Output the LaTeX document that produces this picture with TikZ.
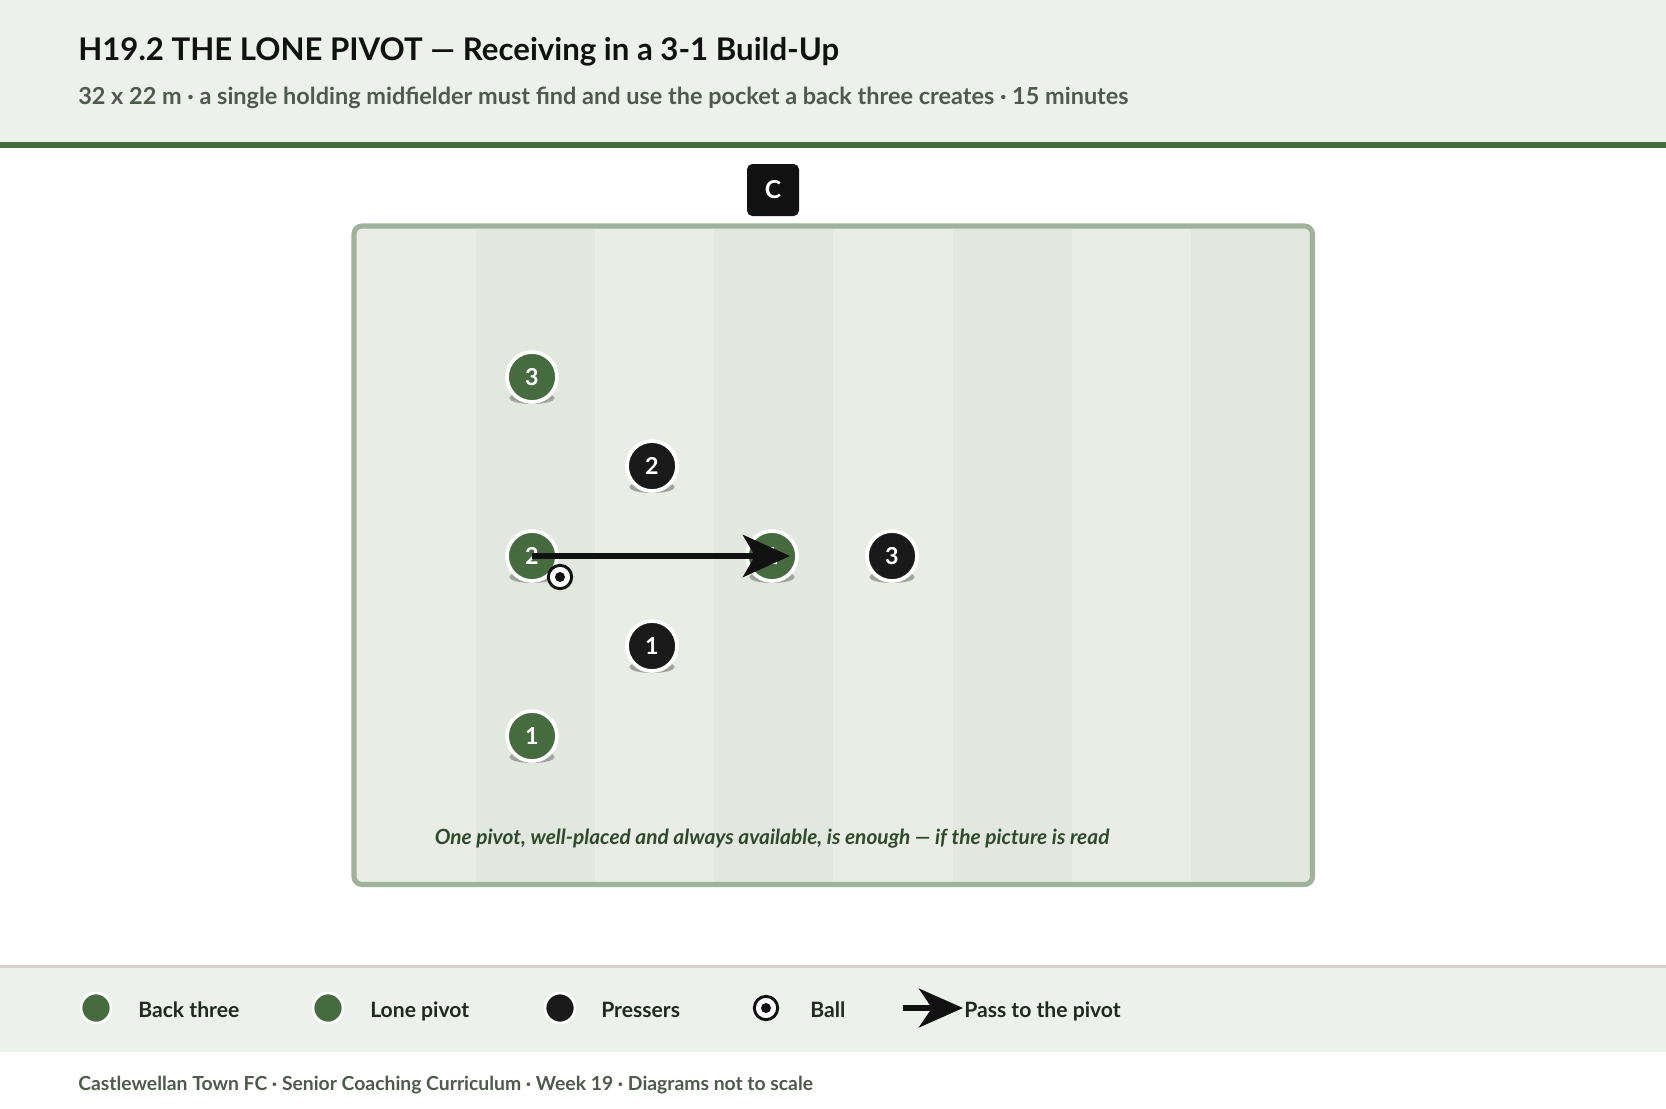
\documentclass[tikz,border=0pt]{standalone}
\usepackage{fontspec}
\setmainfont{Lato}[BoldFont={Lato Bold}, BoldItalicFont={Lato Bold Italic}]
\usetikzlibrary{arrows.meta}
\definecolor{hdrbg}{HTML}{EDF1EC}
\definecolor{pgreen}{HTML}{466B3F}
\definecolor{pblack}{HTML}{1A1A1A}
\definecolor{stripeA}{HTML}{E9EDE6}
\definecolor{stripeB}{HTML}{E2E8DF}
\definecolor{pborder}{HTML}{9FB39B}
\definecolor{subgrey}{HTML}{4D5A4C}
\definecolor{capgreen}{HTML}{2E4A2B}
\definecolor{sepline}{HTML}{D6D3CA}
\definecolor{legtext}{HTML}{1E2A1D}
\definecolor{shadowc}{HTML}{A0A49C}
\definecolor{inkc}{HTML}{111111}
\tikzset{
  plyr/.style={circle, draw=white, line width=2.8pt, minimum size=37.5pt, inner sep=0pt,
    font=\bfseries\fontsize{17.5}{17.5}\selectfont, text=white},
  bteam/.style={plyr, fill=pgreen},
  rteam/.style={plyr, fill=pblack},
  legdot/.style={circle, draw=white, line width=2pt, minimum size=22.5pt, inner sep=0pt},
  ballnode/.style={circle, draw=inkc, fill=white, line width=2.2pt, minimum size=17.5pt, inner sep=0pt},
  balldot/.style={circle, fill=inkc, minimum size=7.5pt, inner sep=0pt},
  passarrow/.style={draw=inkc, line width=4.7pt, -{Stealth[length=35.25pt,width=31.5pt,inset=9pt]}},
  legarrow/.style={draw=inkc, line width=4.7pt, -{Stealth[length=33pt,width=29pt,inset=9.75pt]}},
  legtxt/.style={anchor=base west, inner sep=0pt, text=legtext, font=\bfseries\fontsize{15.85}{15.85}\selectfont},
}
\newcommand\drawplayer[5]{%
  \fill[shadowc] (#2,#3+21) ellipse [x radius=17pt, y radius=4.5pt];
  \node[#4] (#1) at (#2,#3) {#5};}
\begin{document}
\begin{tikzpicture}[x=0.75pt,y=-0.75pt]
\useasboundingbox (0,0) rectangle (1666,1108);
\fill[white] (0,0) rectangle (1666,1108);
% header
\fill[hdrbg] (0,0) rectangle (1666,142);
\fill[pgreen] (0,142) rectangle (1666,148);
\node[anchor=base west, inner sep=0pt, text=inkc, font=\bfseries\fontsize{23.4}{23.4}\selectfont] (title) at (78,60)
  {H19.2 THE LONE PIVOT — Receiving in a 3-1 Build-Up};
\node[anchor=base west, inner sep=0pt, text=subgrey, font=\bfseries\fontsize{17.6}{17.6}\selectfont] (subtitle) at (78,104)
  {32 x 22 m · a single holding midfielder must find and use the pocket a back three creates · 15 minutes};
% coach box
\node[fill=inkc, rounded corners=4pt, minimum size=39pt, inner sep=0pt, text=white,
  font=\bfseries\fontsize{18.5}{18.5}\selectfont] (coach) at (773,190) {C};
% pitch
\fill[stripeA, rounded corners=6pt] (354,226) rectangle (1312.5,884.5);
\foreach \i in {1,3,5,7} {
  \fill[stripeB] (356.5+\i*119.2,228.5) rectangle (356.5+\i*119.2+119.2,882);
}
\draw[pborder, line width=3.8pt, rounded corners=6pt] (354,226) rectangle (1312.5,884.5);
% players
\drawplayer{b3}{532}{377}{bteam}{3}
\drawplayer{b2}{532}{556}{bteam}{2}
\drawplayer{b1}{532}{736}{bteam}{1}
\drawplayer{piv}{772}{556}{bteam}{1}
\drawplayer{r2}{652}{466}{rteam}{2}
\drawplayer{r1}{652}{646}{rteam}{1}
\drawplayer{r3}{892}{556}{rteam}{3}
% pass
\coordinate (passend) at (790,556);
\draw[passarrow] (b2.center) -- (passend);
% ball
\node[ballnode] (ball) at (560,577) {};
\node[balldot] (balld) at (ball.center) {};
% caption
\node[anchor=base, inner sep=0pt, text=capgreen, font=\bfseries\itshape\fontsize{15.65}{15.65}\selectfont] (caption) at (772,844)
  {One pivot, well-placed and always available, is enough — if the picture is read};
% legend band
\fill[hdrbg] (0,965) rectangle (1666,1052);
\fill[sepline] (0,965) rectangle (1666,968);
\node[legdot, fill=pgreen] (lg1) at (96,1008) {};
\node[legtxt] (lt1) at (138,1017) {Back three};
\node[legdot, fill=pgreen] (lg2) at (328,1008) {};
\node[legtxt] (lt2) at (370,1017) {Lone pivot};
\node[legdot, fill=pblack] (lg3) at (560,1008) {};
\node[legtxt] (lt3) at (601,1017) {Pressers};
\node[ballnode] (lg4) at (766,1008) {};
\node[balldot] (lg4d) at (lg4.center) {};
\node[legtxt] (lt4) at (810,1017) {Ball};
\coordinate (la1) at (903,1008);
\coordinate (la2) at (963,1008);
\draw[legarrow] (la1) -- (la2);
\node[legtxt] (lt5) at (964,1017) {Pass to the pivot};
% footer
\node[anchor=base west, inner sep=0pt, text=subgrey, font=\bfseries\fontsize{14.5}{14.5}\selectfont] (footer) at (78,1090)
  {Castlewellan Town FC · Senior Coaching Curriculum · Week 19 · Diagrams not to scale};
\end{tikzpicture}
\end{document}
